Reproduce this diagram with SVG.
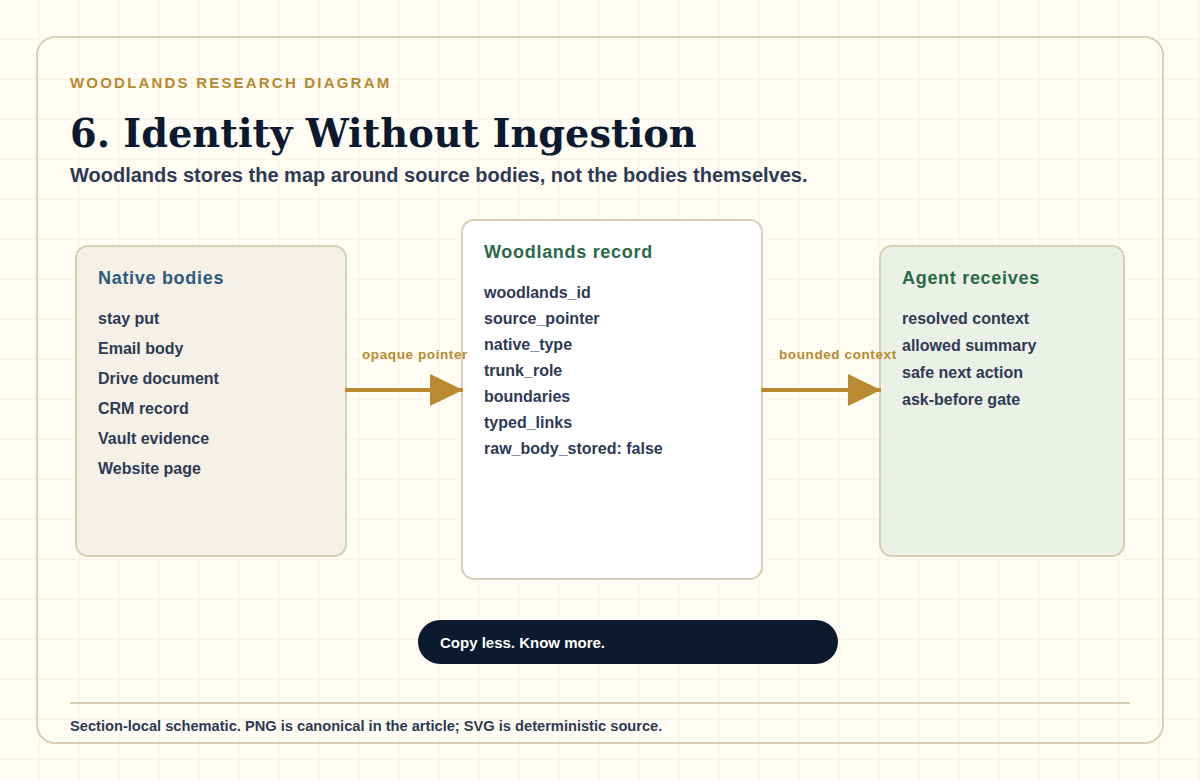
<svg xmlns="http://www.w3.org/2000/svg" width="1200" height="780" viewBox="0 0 1200 780">
<defs>
<pattern id="grid" width="40" height="40" patternUnits="userSpaceOnUse">
<path d="M40 0V40M0 40H40" fill="none" stroke="#f2ecdb" stroke-width="1"/>
</pattern>
<marker id="ah" markerUnits="userSpaceOnUse" markerWidth="34" markerHeight="34" refX="33" refY="16" orient="auto" viewBox="0 0 34 32">
<path d="M0 0L33 16L0 32Z" fill="#b98a2f"/>
</marker>
</defs>
<style>
.sans{font-family:"Liberation Sans",Arial,sans-serif;font-weight:bold}
.kicker{font-size:15px;fill:#b8892f;letter-spacing:2.2px}
.title{font-family:"DejaVu Serif",Georgia,serif;font-weight:bold;font-size:38.3px;fill:#0b1a30}
.sub{font-size:20px;fill:#2e3a55}
.box{stroke:#d9cfb5;stroke-width:2}
.bt{font-size:18px;letter-spacing:0.7px}
.it{font-size:16px;fill:#2e3a55}
.lbl{font-size:13.5px;fill:#b98a2f;letter-spacing:0.6px}
.conn{stroke:#b98a2f;stroke-width:4;fill:none}
</style>
<rect width="1200" height="780" fill="#fffcf3"/>
<rect width="1200" height="780" fill="url(#grid)"/>
<rect x="37" y="37" width="1126" height="706" rx="18" fill="none" stroke="#d9cfb5" stroke-width="2"/>
<text class="sans kicker" x="70" y="88">WOODLANDS RESEARCH DIAGRAM</text>
<text class="title" x="70" y="147">6. Identity Without Ingestion</text>
<text class="sans sub" x="70" y="182">Woodlands stores the map around source bodies, not the bodies themselves.</text>

<g id="native">
<rect class="box" x="76" y="246" width="270" height="310" rx="12" fill="#f5f1e7"/>
<text class="sans bt" x="98" y="284" fill="#2c5a80">Native bodies</text>
<text class="sans it" x="98" y="324">stay put</text>
<text class="sans it" x="98" y="354">Email body</text>
<text class="sans it" x="98" y="384">Drive document</text>
<text class="sans it" x="98" y="414">CRM record</text>
<text class="sans it" x="98" y="444">Vault evidence</text>
<text class="sans it" x="98" y="474">Website page</text>
</g>

<g id="record">
<rect class="box" x="462" y="220" width="300" height="359" rx="12" fill="#ffffff"/>
<text class="sans bt" x="484" y="258" fill="#2a6a48">Woodlands record</text>
<text class="sans it" x="484" y="298">woodlands_id</text>
<text class="sans it" x="484" y="324">source_pointer</text>
<text class="sans it" x="484" y="350">native_type</text>
<text class="sans it" x="484" y="376">trunk_role</text>
<text class="sans it" x="484" y="402">boundaries</text>
<text class="sans it" x="484" y="428">typed_links</text>
<text class="sans it" x="484" y="454">raw_body_stored: false</text>
</g>

<g id="agent">
<rect class="box" x="880" y="246" width="244" height="310" rx="12" fill="#ecf1e7"/>
<text class="sans bt" x="902" y="284" fill="#2a6a48">Agent receives</text>
<text class="sans it" x="902" y="324">resolved context</text>
<text class="sans it" x="902" y="351">allowed summary</text>
<text class="sans it" x="902" y="378">safe next action</text>
<text class="sans it" x="902" y="405">ask-before gate</text>
</g>

<g id="connectors">
<line class="conn" x1="345" y1="390" x2="463" y2="390" marker-end="url(#ah)"/>
<text class="sans lbl" x="362" y="359">opaque pointer</text>
<line class="conn" x1="761" y1="390" x2="881" y2="390" marker-end="url(#ah)"/>
<text class="sans lbl" x="779" y="359">bounded context</text>
</g>

<g id="pill">
<rect x="418" y="620" width="420" height="44" rx="22" fill="#0b1a2e"/>
<text class="sans" x="440" y="648" font-size="15" fill="#ffffff">Copy less. Know more.</text>
</g>

<line x1="70" y1="703" x2="1130" y2="703" stroke="#d9cfb5" stroke-width="2"/>
<text class="sans" x="70" y="731" font-size="14.65" fill="#2e3a55">Section-local schematic. PNG is canonical in the article; SVG is deterministic source.</text>
</svg>
